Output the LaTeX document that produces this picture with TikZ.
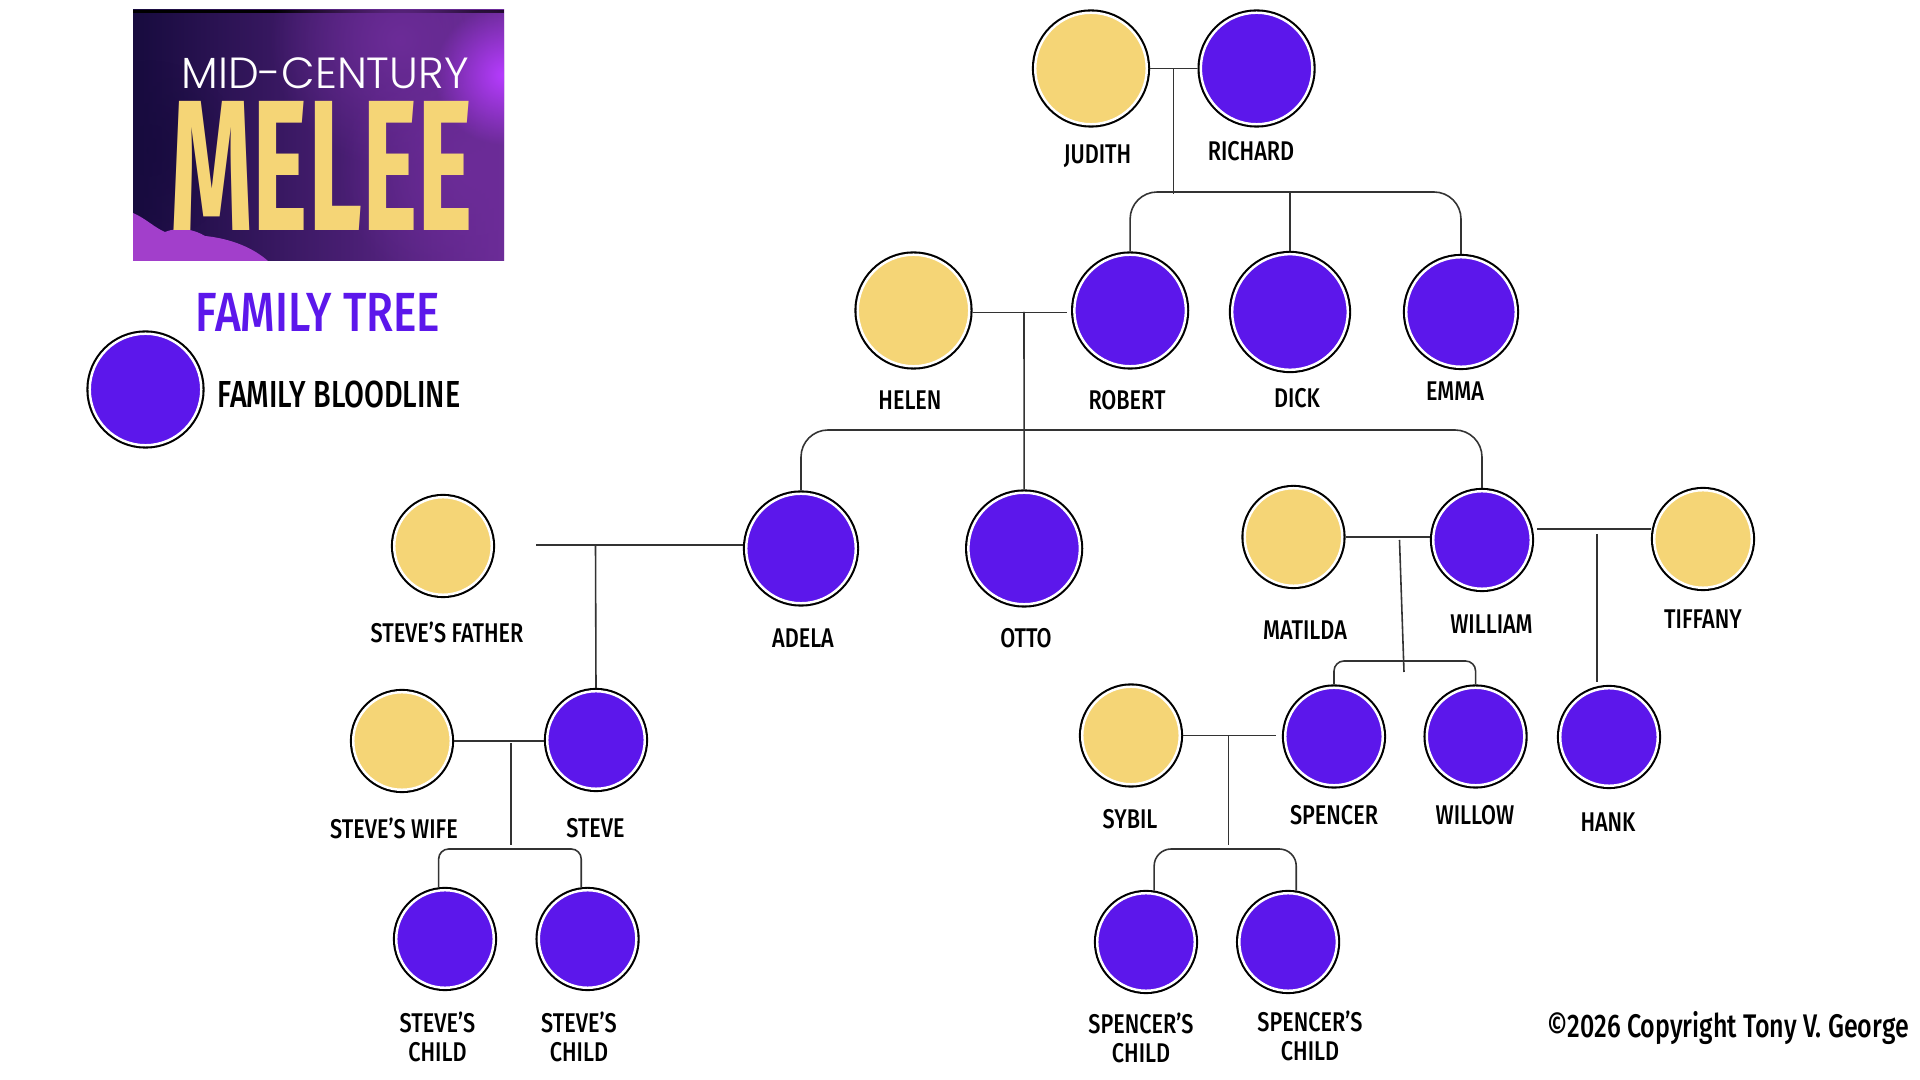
\documentclass[tikz,border=0pt]{standalone}
\usepackage{fontspec}
\usepackage{xcolor}
\usepackage{tikz}
\usetikzlibrary{positioning, fadings}
\setmainfont[FakeStretch=0.8]{Fira Sans Medium}
\newfontfamily\melefont[FakeStretch=0.565]{Fira Sans Bold}
\newfontfamily\midfont{Poppins Light}
\newfontfamily\titlefont[FakeStretch=0.8]{Fira Sans Medium}
\newfontfamily\legendfont[FakeStretch=0.765]{Fira Sans Medium}
\definecolor{bloodline}{HTML}{5C17EB}
\definecolor{inlaw}{HTML}{F5D576}
\definecolor{logodark}{HTML}{170B3E}
\definecolor{logomid}{HTML}{421A5F}
\definecolor{logoright}{HTML}{6C2C98}
\definecolor{logoglow}{HTML}{B63CFF}
\definecolor{logocloud}{HTML}{A23FCB}
\tikzfading[name=glowfade, inner color=transparent!0, outer color=transparent!100]

\begin{document}
\begin{tikzpicture}[x=0.01cm, y=-0.01cm,
			person/.style={circle, inner sep=0pt, outer sep=.95pt, draw=white, line width=.7pt, preaction={draw=black, line width=1.9pt}},
			blood/.style={person, fill=bloodline, minimum size=.975cm},
			spouse/.style={person, fill=inlaw, minimum size=.975cm},
			large/.style={minimum size=1.115cm},
			nametag/.style={font=\fontsize{7.7}{8.1}\selectfont, align=center, inner sep=0pt},
			link/.style={draw=black!80, line width=.45pt}
			]
			\useasboundingbox (0,0) rectangle (1920,1080);

			% logo
			\begin{scope}
				\clip (133,10) rectangle (504,261);
				\shade[left color=logodark, middle color=logomid, right color=logoright] (133,10) rectangle (504,261);
				\fill[black] (133,10) rectangle (504,13);
				\fill[logoright, path fading=glowfade] (400,40) circle (130);
				\fill[logoright, path fading=glowfade] (470,170) circle (130);
				\fill[logoglow, path fading=glowfade] (504,75) circle (70);
				\fill[logodark, path fading=glowfade, opacity=.7] (150,150) circle (90);
				\fill[logocloud] (133,213) .. controls (145,218) and (155,228) .. (165,232) .. controls (180,226) and (195,230) .. (205,236) .. controls (225,238) and (250,245) .. (268,261) -- (133,261) -- cycle;
			\end{scope}
			\node [text=white, inner sep=0pt, font=\midfont\fontsize{12.4}{14}\selectfont](mid) at (325,73) {MID-CENTURY};
			\node [text=inlaw, inner sep=0pt, font=\melefont\fontsize{53}{53}\selectfont](melee) at (321.5,166) {MELEE};

			% legend
			\node [text=bloodline, inner sep=0pt, font=\titlefont\fontsize{15.7}{16}\selectfont](title) at (318,312) {FAMILY TREE};
			\node [blood, large](legend) at (145.5,389.5) {};
			\node [inner sep=0pt, font=\legendfont\fontsize{10.7}{12}\selectfont](legendtext) at (339,395) {FAMILY BLOODLINE};

			% people
			\node [spouse, large](judith) at (1091,68.5) {};
			\node [blood, large](richard) [right of=judith, node distance=1.655cm] {};
			\node [spouse, large](helen) at (913.5,310.5) {};
			\node [blood, large](robert) [right of=helen, node distance=2.165cm] {};
			\node [blood, minimum size=1.155cm](dick) at (1290,312) {};
			\node [blood, minimum size=1.095cm](emma) at (1461,312) {};
			\node [blood, minimum size=1.095cm](adela) at (801,548.5) {};
			\node [blood, large](otto) [right of=adela, node distance=2.23cm] {};
			\node [spouse](father) at (443,546) {};
			\node [spouse](matilda) at (1293.5,537) {};
			\node [blood](william) at (1482,540) {};
			\node [spouse](tiffany) at (1703,539) {};
			\node [spouse](wife) at (402,741) {};
			\node [blood](steve) at (596,740) {};
			\node [blood](stevea) at (445,939) {};
			\node [blood](steveb) [right of=stevea, node distance=1.425cm] {};
			\node [spouse](sybil) at (1131,735.5) {};
			\node [blood](spencer) at (1334,736.5) {};
			\node [blood](willow) [right of=spencer, node distance=1.415cm] {};
			\node [blood](hank) at (1609,737) {};
			\node [blood](spencera) at (1146,942) {};
			\node [blood](spencerb) [right of=spencera, node distance=1.42cm] {};

			% names
			\node [nametag](judithname) at (1097.5,156) {JUDITH};
			\node [nametag](richardname) at (1251,151.5) {RICHARD};
			\node [nametag](helenname) at (910,400) {HELEN};
			\node [nametag](robertname) at (1127,400) {ROBERT};
			\node [nametag](dickname) at (1297,398.5) {DICK};
			\node [nametag](emmaname) at (1455,391) {EMMA};
			\node [nametag](adelaname) at (803,638.5) {ADELA};
			\node [nametag](ottoname) at (1026,638.5) {OTTO};
			\node [nametag](fathername) at (447,632) {STEVE’S FATHER};
			\node [nametag](matildaname) at (1305,630) {MATILDA};
			\node [nametag](williamname) at (1491.5,624) {WILLIAM};
			\node [nametag](tiffanyname) at (1703,619) {TIFFANY};
			\node [nametag](wifename) at (394,828) {STEVE’S WIFE};
			\node [nametag](stevename) at (595.5,828) {STEVE};
			\node [nametag](sybilname) at (1130,819) {SYBIL};
			\node [nametag](spencername) at (1334,815) {SPENCER};
			\node [nametag](willowname) at (1475,815) {WILLOW};
			\node [nametag](hankname) at (1608,822) {HANK};
			\node [nametag](steveaname) at (437.5,1037) {STEVE’S\\CHILD};
			\node [nametag](stevebname) at (579,1037) {STEVE’S\\CHILD};
			\node [nametag](spenceraname) at (1141,1038) {SPENCER’S\\CHILD};
			\node [nametag](spencerbname) at (1310,1036) {SPENCER’S\\CHILD};
			\node [inner sep=0pt, font=\legendfont\fontsize{9.3}{11}\selectfont](copyright) at (1728,1028) {©2026 Copyright Tony V. George};

			% junctions
			\coordinate (topstem) at (1173.5,69);
			\coordinate (topbar) at (1290,192);
			\coordinate (topstemend) at (1173.5,194);
			\coordinate (midstem) at (1024,312);
			\coordinate (midbar) at (1024,430);
			\coordinate (fatherend) at (536,545);
			\coordinate (fatherstem) at (595.5,545);
			\coordinate (matildastem) at (1399.5,540);
			\coordinate (matildastemend) at (1404,672);
			\coordinate (matildabar) at (1404,661);
			\coordinate (tiffanystart) at (1537,529);
			\coordinate (hankstem) at (1597,534);
			\coordinate (hankstemend) at (1597,682);
			\coordinate (wifestem) at (511,743);
			\coordinate (wifestemend) at (511,845);
			\coordinate (wifebar) at (511,849);
			\coordinate (sybilstem) at (1228.5,736);
			\coordinate (sybilstemend) at (1228.5,845);
			\coordinate (sybilbar) at (1228.5,849);

			% connectors
			\draw[link] (judith.east) -- (richard.west);
			\draw[link] (topstem) -- (topstemend);
			\draw[link, rounded corners=.27cm] (robert.north) |- (topbar) -| (emma.north);
			\draw[link] (topbar) -- (dick.north);
			\draw[link, shorten >=1.2pt] (helen.358) -- (helen.358 -| robert.west);
			\draw[link] (midstem) -- (otto.north);
			\draw[link, rounded corners=.27cm] (adela.north) |- (midbar) -| (william.north);
			\draw[link] (fatherend) -- (fatherend -| adela.west);
			\draw[link] (fatherstem) -- (steve.north);
			\draw[link] (matilda.east) -- (matilda.east -| william.west);
			\draw[link] (matildastem) -- (matildastemend);
			\draw[link, rounded corners=.1cm] (spencer.north) |- (matildabar) -| (willow.north);
			\draw[link] (tiffanystart) -- (tiffanystart -| tiffany.west);
			\draw[link] (hankstem) -- (hankstemend);
			\draw[link] (wife.east) -- (wife.east -| steve.west);
			\draw[link] (wifestem) -- (wifestemend);
			\draw[link, rounded corners=.1cm] (stevea.97) |- (wifebar) -| (steveb.97);
			\draw[link, shorten >=1.6pt] (sybil.east) -- (sybil.east -| spencer.west);
			\draw[link] (sybilstem) -- (sybilstemend);
			\draw[link, rounded corners=.17cm] (spencera.81) |- (sybilbar) -| (spencerb.81);
		\end{tikzpicture}
\end{document}
